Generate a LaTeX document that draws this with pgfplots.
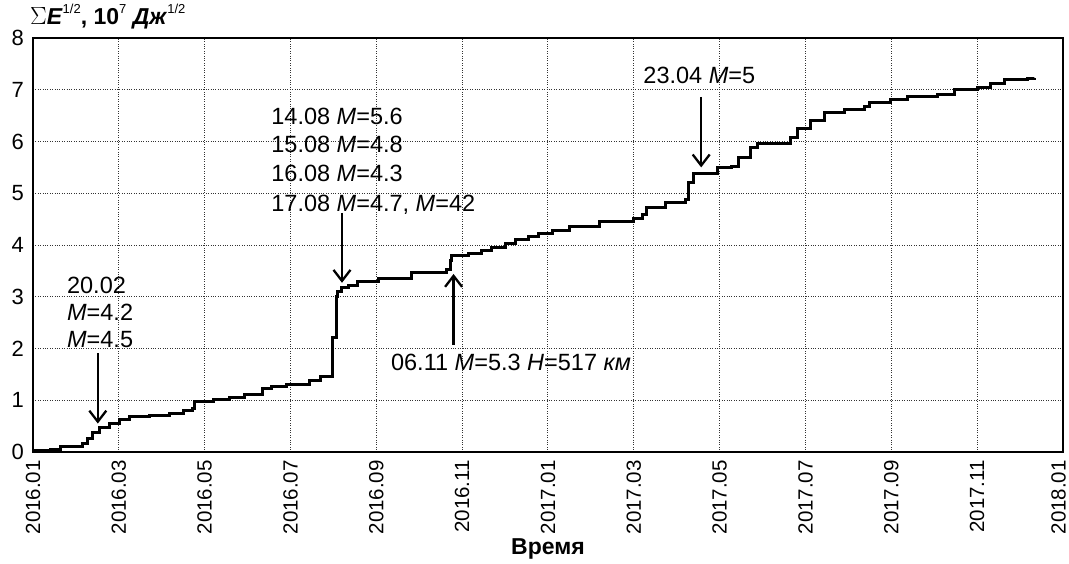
\documentclass[border=0pt]{standalone}
\usepackage{fontspec}
\setmainfont{Liberation Sans}
\usepackage{pgfplots}
\pgfplotsset{compat=1.18}
\usetikzlibrary{arrows.meta}
\pgfplotstableread{
m v
0.00 0.02
0.40 0.05
0.65 0.10
1.16 0.17
1.28 0.27
1.39 0.37
1.56 0.48
1.79 0.56
2.02 0.62
2.25 0.68
2.72 0.71
3.18 0.75
3.50 0.80
3.72 0.85
3.76 0.98
4.20 1.02
4.58 1.06
4.93 1.12
5.34 1.22
5.55 1.27
5.90 1.30
6.44 1.38
6.70 1.45
6.97 1.53
6.98 2.22
7.07 3.00
7.10 3.10
7.18 3.17
7.34 3.22
7.57 3.29
8.04 3.36
8.83 3.46
9.64 3.52
9.74 3.71
9.76 3.80
10.15 3.84
10.45 3.90
10.69 3.96
11.00 4.03
11.25 4.10
11.55 4.16
11.78 4.23
12.10 4.28
12.50 4.35
13.20 4.45
14.00 4.52
14.20 4.58
14.29 4.73
14.73 4.83
15.20 4.87
15.27 5.20
15.38 5.39
15.96 5.49
16.27 5.51
16.43 5.70
16.73 5.89
16.89 5.97
17.66 6.07
17.82 6.26
18.12 6.41
18.45 6.57
18.91 6.61
19.38 6.67
19.49 6.76
19.98 6.82
20.38 6.86
21.07 6.90
21.47 7.01
22.00 7.05
22.30 7.13
22.63 7.19
23.17 7.21
23.33 7.23
}\curve
\newcommand{\fs}[1]{\fontsize{#1}{#1}\selectfont}
\begin{document}
\begin{tikzpicture}
\path[use as bounding box] (-33pt,-112pt) rectangle (1036pt,452pt);
\begin{axis}[
  at={(0pt,0pt)}, anchor=south west,
  scale only axis, width=1030pt, height=414pt,
  xmin=0, xmax=24, ymin=0, ymax=8,
  xtick={0,2,...,24},
  xticklabels={2016.01,2016.03,2016.05,2016.07,2016.09,2016.11,2017.01,2017.03,2017.05,2017.07,2017.09,2017.11,\raisebox{9pt}{2018.01}},
  ytick={0,1,...,8},
  /pgf/number format/assume math mode=true,
  xticklabel style={rotate=90, anchor=east, font=\fs{20.5}, inner sep=0pt, xshift=-8pt},
  yticklabel style={font=\fs{22}, inner sep=0pt, xshift=-9pt},
  xlabel={\bfseries Время}, xlabel style={font=\fs{23}, yshift=-1pt},
  major tick length=0pt,
  axis line style={line width=2.8pt},
  grid=major, grid style={dotted, line width=1pt, black!80},
  clip=false,
]
\addplot[const plot, black, line width=3pt] table[x=m, y=v] {\curve};
% annotations
\begin{scope}[every node/.style={font=\fs{23.5}, anchor=base west, inner sep=0pt}]
\node at (axis cs:0.79,3.07) {20.02};
\node at (axis cs:0.79,2.55) {\textit{M}=4.2};
\node at (axis cs:0.79,2.01) {\textit{M}=4.5};
\node at (axis cs:5.55,6.32) {14.08 \textit{M}=5.6};
\node at (axis cs:5.55,5.78) {15.08 \textit{M}=4.8};
\node at (axis cs:5.55,5.22) {16.08 \textit{M}=4.3};
\node at (axis cs:5.55,4.64) {17.08 \textit{M}=4.7, \textit{M}=42};
\node at (axis cs:8.34,1.58) {06.11 \textit{M}=5.3 \textit{H}=517 \textit{км}};
\node at (axis cs:14.22,7.13) {23.04 \textit{M}=5};
\end{scope}
\begin{scope}[line width=2.3pt, -{Straight Barb[length=11pt,width=17pt,line width=2.3pt]}]
\draw (axis cs:1.51,1.91) -- (axis cs:1.51,0.55);
\draw (axis cs:7.20,4.62) -- (axis cs:7.20,3.27);
\draw (axis cs:9.80,2.07) -- (axis cs:9.80,3.44);
\draw (axis cs:15.57,6.86) -- (axis cs:15.57,5.50);
\end{scope}
\end{axis}
\node[anchor=base west, inner sep=0pt, font=\fs{23}] at (-3pt,427pt)
  {$\Sigma$\textbf{\textit{E}}\raisebox{0.5em}{\fs{13}1/2}\textbf{, 10}\raisebox{0.5em}{\fs{13}7} \textbf{\textit{Дж}}\raisebox{0.5em}{\fs{13}1/2}};
\end{tikzpicture}
\end{document}
